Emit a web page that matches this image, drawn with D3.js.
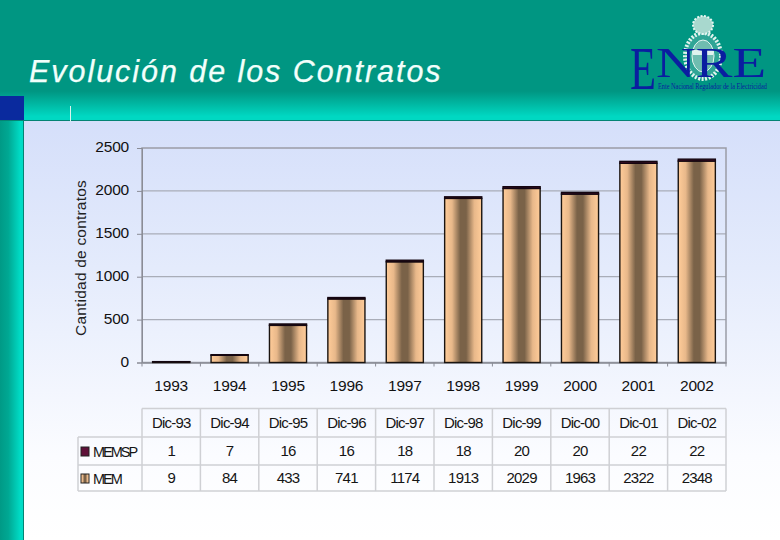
<!DOCTYPE html>
<html><head><meta charset="utf-8">
<script src="https://cdn.jsdelivr.net/npm/d3@7"></script>
<style>html,body{margin:0;padding:0;background:#fff}svg{display:block;font-family:"Liberation Sans",Arial,sans-serif}</style>
</head><body><svg id="c" width="780" height="540"></svg>
<script>
const years = ["1993","1994","1995","1996","1997","1998","1999","2000","2001","2002"];
const periods = ["Dic-93","Dic-94","Dic-95","Dic-96","Dic-97","Dic-98","Dic-99","Dic-00","Dic-01","Dic-02"];
const memsp = [1,7,16,16,18,18,20,20,22,22];
const mem = [9,84,433,741,1174,1913,2029,1963,2322,2348];
const yTicks = [0,500,1000,1500,2000,2500];
const titleText = "Evolución de los Contratos";
const yLabel = "Cantidad de contratos";

const svg = d3.select("#c");
const defs = svg.append("defs");
function grad(id, stops, horiz){
  const g = defs.append("linearGradient").attr("id",id).attr("x1",0).attr("y1",0)
    .attr("x2",horiz?1:0).attr("y2",horiz?0:1);
  stops.forEach(s=>g.append("stop").attr("offset",s[0]).attr("stop-color",s[1]));
}
grad("page",[[0,"#d5dffa"],[0.35,"#e4ebfc"],[0.8,"#fbfcff"],[1,"#ffffff"]]);
grad("head",[[0,"#009682"],[0.76,"#009682"],[0.97,"#00d8c2"],[1,"#00d8c2"]]);
grad("side",[[0,"#009a86"],[0.35,"#00a893"],[0.85,"#00dcc6"],[1,"#00dcc6"]],true);
grad("barMem",[[0,"#ffcc99"],[0.2,"#e8b88a"],[0.42,"#7a6248"],[0.58,"#7a6248"],[0.8,"#e8b88a"],[1,"#ffcc99"]],true);
grad("barSp",[[0,"#5e1038"],[0.5,"#2a0a1c"],[1,"#5e1038"]],true);

svg.append("rect").attr("x",0).attr("y",121).attr("width",780).attr("height",419).attr("fill","url(#page)");
svg.append("rect").attr("x",0).attr("y",0).attr("width",780).attr("height",120).attr("fill","url(#head)");
svg.append("rect").attr("x",0).attr("y",120).attr("width",24).attr("height",420).attr("fill","url(#side)");
svg.append("rect").attr("x",0).attr("y",96).attr("width",24).attr("height",24).attr("fill","#0a2a9e");
svg.append("line").attr("x1",0).attr("x2",780).attr("y1",120.5).attr("y2",120.5).attr("stroke","#048474");
svg.append("line").attr("x1",23.5).attr("x2",23.5).attr("y1",120).attr("y2",540).attr("stroke","#048474");
svg.append("line").attr("x1",70.5).attr("x2",70.5).attr("y1",106).attr("y2",122).attr("stroke","#d8f4ee");

svg.append("text").attr("x",29).attr("y",82).attr("font-size",30.5).attr("font-style","italic")
  .attr("letter-spacing",1.95).attr("stroke","#f2fffb").attr("stroke-width",0.25)
  .attr("fill","#f2fffb").text(titleText);

// logo
const logo = svg.append("g");
logo.append("ellipse").attr("cx",703).attr("cy",56).attr("rx",18).attr("ry",23)
  .attr("fill","#2fa596").attr("stroke","#dff3ee").attr("stroke-width",4).attr("stroke-dasharray","2 1.5");
logo.append("ellipse").attr("cx",703).attr("cy",56).attr("rx",11).attr("ry",16).attr("fill","#6fbdb0").attr("stroke","#e6f6f2");
logo.append("rect").attr("x",693).attr("y",50).attr("width",20).attr("height",5).attr("fill","#dff3ee");
logo.append("ellipse").attr("cx",703).attr("cy",25).attr("rx",10).attr("ry",9).attr("fill","#a8d8ce").attr("stroke","#e6f6f2").attr("stroke-width",2).attr("stroke-dasharray","2 1.5");
function fitText(label,px,py,w,size){
  const t = logo.append("text").attr("font-family","Liberation Serif").attr("font-size",size).attr("fill","#0a1ea0").text(label);
  const natural = t.node().getComputedTextLength();
  t.attr("transform",`translate(${px},${py}) scale(${w/natural},1)`);
}
fitText("E",630,89,26,62);
fitText("NRE",656,77,110,43);
fitText("Ente Nacional Regulador de la Electricidad",658,89,109,9);

// plot
const plotL=142,plotR=726,plotT=148,plotB=362.5;
const x = d3.scaleBand().domain(years).range([plotL,plotR]).paddingInner(0.365).paddingOuter(0.1825);
const xCol = d3.scaleBand().domain(years).range([plotL,plotR]);
const y = d3.scaleLinear().domain([0,2500]).range([plotB,plotT]);

const grid = svg.append("g");
grid.selectAll("line").data(yTicks.slice(1,-1)).join("line")
  .attr("x1",plotL).attr("x2",plotR).attr("y1",d=>y(d)).attr("y2",d=>y(d)).attr("stroke","#a9adb8").attr("stroke-width",1.2);
svg.append("rect").attr("x",plotL).attr("y",plotT).attr("width",plotR-plotL).attr("height",plotB-plotT)
  .attr("fill","none").attr("stroke","#9a9ca6").attr("stroke-width",1.5);

const yAxis = svg.append("g").attr("transform",`translate(${plotL},0)`)
  .call(d3.axisLeft(y).tickValues(yTicks).tickSize(5).tickPadding(8).tickFormat(d3.format("d")));
yAxis.select(".domain").attr("stroke","#8a8c96");
yAxis.selectAll("line").attr("stroke","#8a8c96");
yAxis.selectAll("text").attr("font-size",15.5).attr("font-family","Liberation Sans").attr("fill","#111").attr("letter-spacing",-0.2).attr("dy","0.25em");

const xAxis = svg.append("g").attr("transform",`translate(0,${plotB})`)
  .call(d3.axisBottom(xCol).tickSize(0).tickPadding(17));
xAxis.select(".domain").attr("stroke","#8a8c96").attr("stroke-width",1.5);
xAxis.selectAll("text").attr("font-size",15.5).attr("font-family","Liberation Sans").attr("fill","#111").attr("letter-spacing",-0.2);
svg.append("g").selectAll("line").data(d3.range(11)).join("line")
  .attr("x1",i=>plotL+i*xCol.step()).attr("x2",i=>plotL+i*xCol.step())
  .attr("y1",plotB).attr("y2",plotB+4).attr("stroke","#8a8c96");

svg.append("text").attr("transform","translate(86,258) rotate(-90)").attr("text-anchor","middle")
  .attr("font-size",15.5).attr("letter-spacing",0.2).attr("fill","#222").text(yLabel);

const bars = svg.append("g").selectAll("g").data(years).join("g");
bars.append("rect").attr("x",d=>x(d)).attr("width",x.bandwidth())
  .attr("y",(d,i)=>y(mem[i])).attr("height",(d,i)=>y(0)-y(mem[i]))
  .attr("fill","url(#barMem)").attr("stroke","#1a1410").attr("stroke-width",1.4);
bars.append("rect").attr("x",d=>x(d)).attr("width",x.bandwidth())
  .attr("y",(d,i)=>y(mem[i]+memsp[i])).attr("height",(d,i)=>y(mem[i])-y(mem[i]+memsp[i]))
  .attr("fill","url(#barSp)").attr("stroke","#140610").attr("stroke-width",1.4);

// table
const rowY = [408.5,437,465,491];
const tableLeft = 78;
const lines = svg.append("g").attr("stroke","#cfd0d4").attr("stroke-width",1.5);
rowY.forEach((ry,i)=>lines.append("line").attr("x1",i===0?plotL:tableLeft).attr("x2",plotR).attr("y1",ry).attr("y2",ry));
d3.range(11).forEach(i=>{
  const cx=plotL+i*xCol.step();
  lines.append("line").attr("x1",cx).attr("x2",cx).attr("y1",rowY[0]).attr("y2",rowY[3]);
});
lines.append("line").attr("x1",tableLeft).attr("x2",tableLeft).attr("y1",rowY[1]).attr("y2",rowY[3]);

const cellText=(sel,rowIdx,arr)=>sel.append("g").selectAll("text").data(arr).join("text")
  .attr("x",(d,i)=>xCol(years[i])+xCol.bandwidth()/2)
  .attr("y",(rowY[rowIdx]+rowY[rowIdx+1])/2+5)
  .attr("text-anchor","middle").attr("font-size",15).attr("letter-spacing",-0.8).attr("fill","#151515").text(d=>d);
cellText(svg,0,periods);
cellText(svg,1,memsp);
cellText(svg,2,mem);

const legendRows=[["MEMSP",1,"#5e1038"],["MEM",2,"url(#barMem)"]];
legendRows.forEach(([name,r,fill])=>{
  const my=(rowY[r]+rowY[r+1])/2;
  svg.append("rect").attr("x",81).attr("y",my-4).attr("width",8).attr("height",9).attr("fill",fill).attr("stroke","#222");
  svg.append("text").attr("x",93).attr("y",my+5.5).attr("font-size",14.5).attr("letter-spacing",-2).attr("fill","#151515").text(name);
});
</script></body></html>
